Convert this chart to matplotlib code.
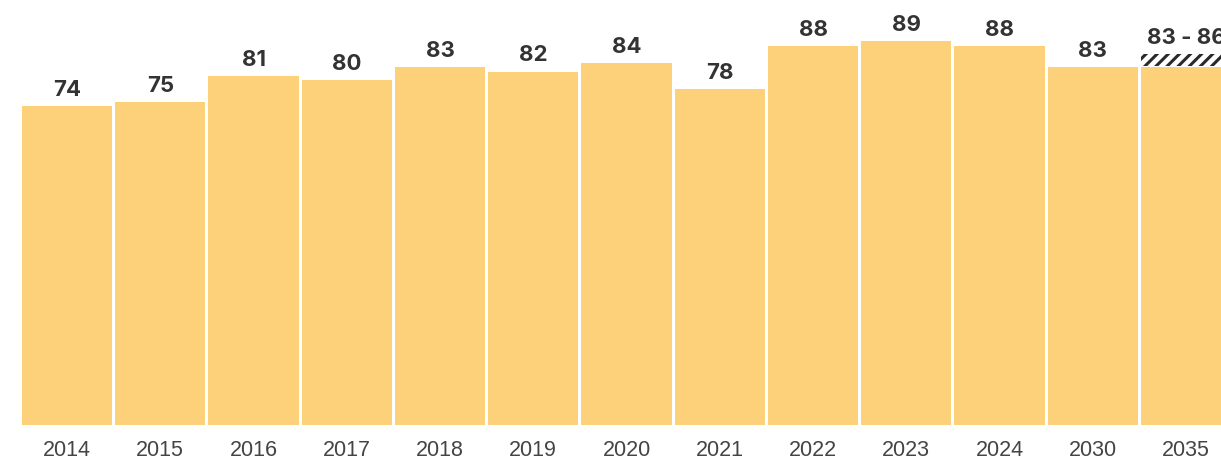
import matplotlib
matplotlib.use("Agg")
import matplotlib.pyplot as plt
import matplotlib as mpl

years = ["2014", "2015", "2016", "2017", "2018", "2019", "2020", "2021",
         "2022", "2023", "2024", "2030", "2035"]
values = [74, 75, 81, 80, 83, 82, 84, 78, 88, 89, 88, 83, 83]
range_top = [None] * 12 + [86]
labels = ["74", "75", "81", "80", "83", "82", "84", "78", "88", "89", "88", "83", "83 - 86"]

mpl.rcParams['hatch.linewidth'] = 2.2
mpl.rcParams['hatch.color'] = '#2a2a2a'

fig = plt.figure(figsize=(12.21, 4.6), dpi=100)
ax = fig.add_axes([0, 34/460, 1, 426/460])

x = list(range(len(years)))
bar_color = '#FDD07A'
ax.bar(x, values, width=0.97, color=bar_color, edgecolor='none')

for i, (v, t) in enumerate(zip(values, range_top)):
    if t is not None:
        ax.bar(i, t - v - 0.2, bottom=v + 0.2, width=0.97, color='white',
               edgecolor='#2a2a2a', linewidth=0, hatch='///')

for i, (v, t, lab) in enumerate(zip(values, range_top, labels)):
    top = t if t is not None else v
    ax.text(i, top + 2.6, lab, ha='center', va='baseline', fontsize=16,
            fontweight='bold', color='#333333', family='Inter')

ax.set_xlim(-67/93.25, (1221-67)/93.25)
ax.set_ylim(0, 426/4.31)
ax.set_xticks(x)
ax.set_xticklabels(years, fontsize=15.5, color='#444444', family='Liberation Sans')
ax.tick_params(axis='x', length=0, pad=10)
ax.set_yticks([])
for s in ax.spines.values():
    s.set_visible(False)

fig.savefig("out.png", dpi=100)
